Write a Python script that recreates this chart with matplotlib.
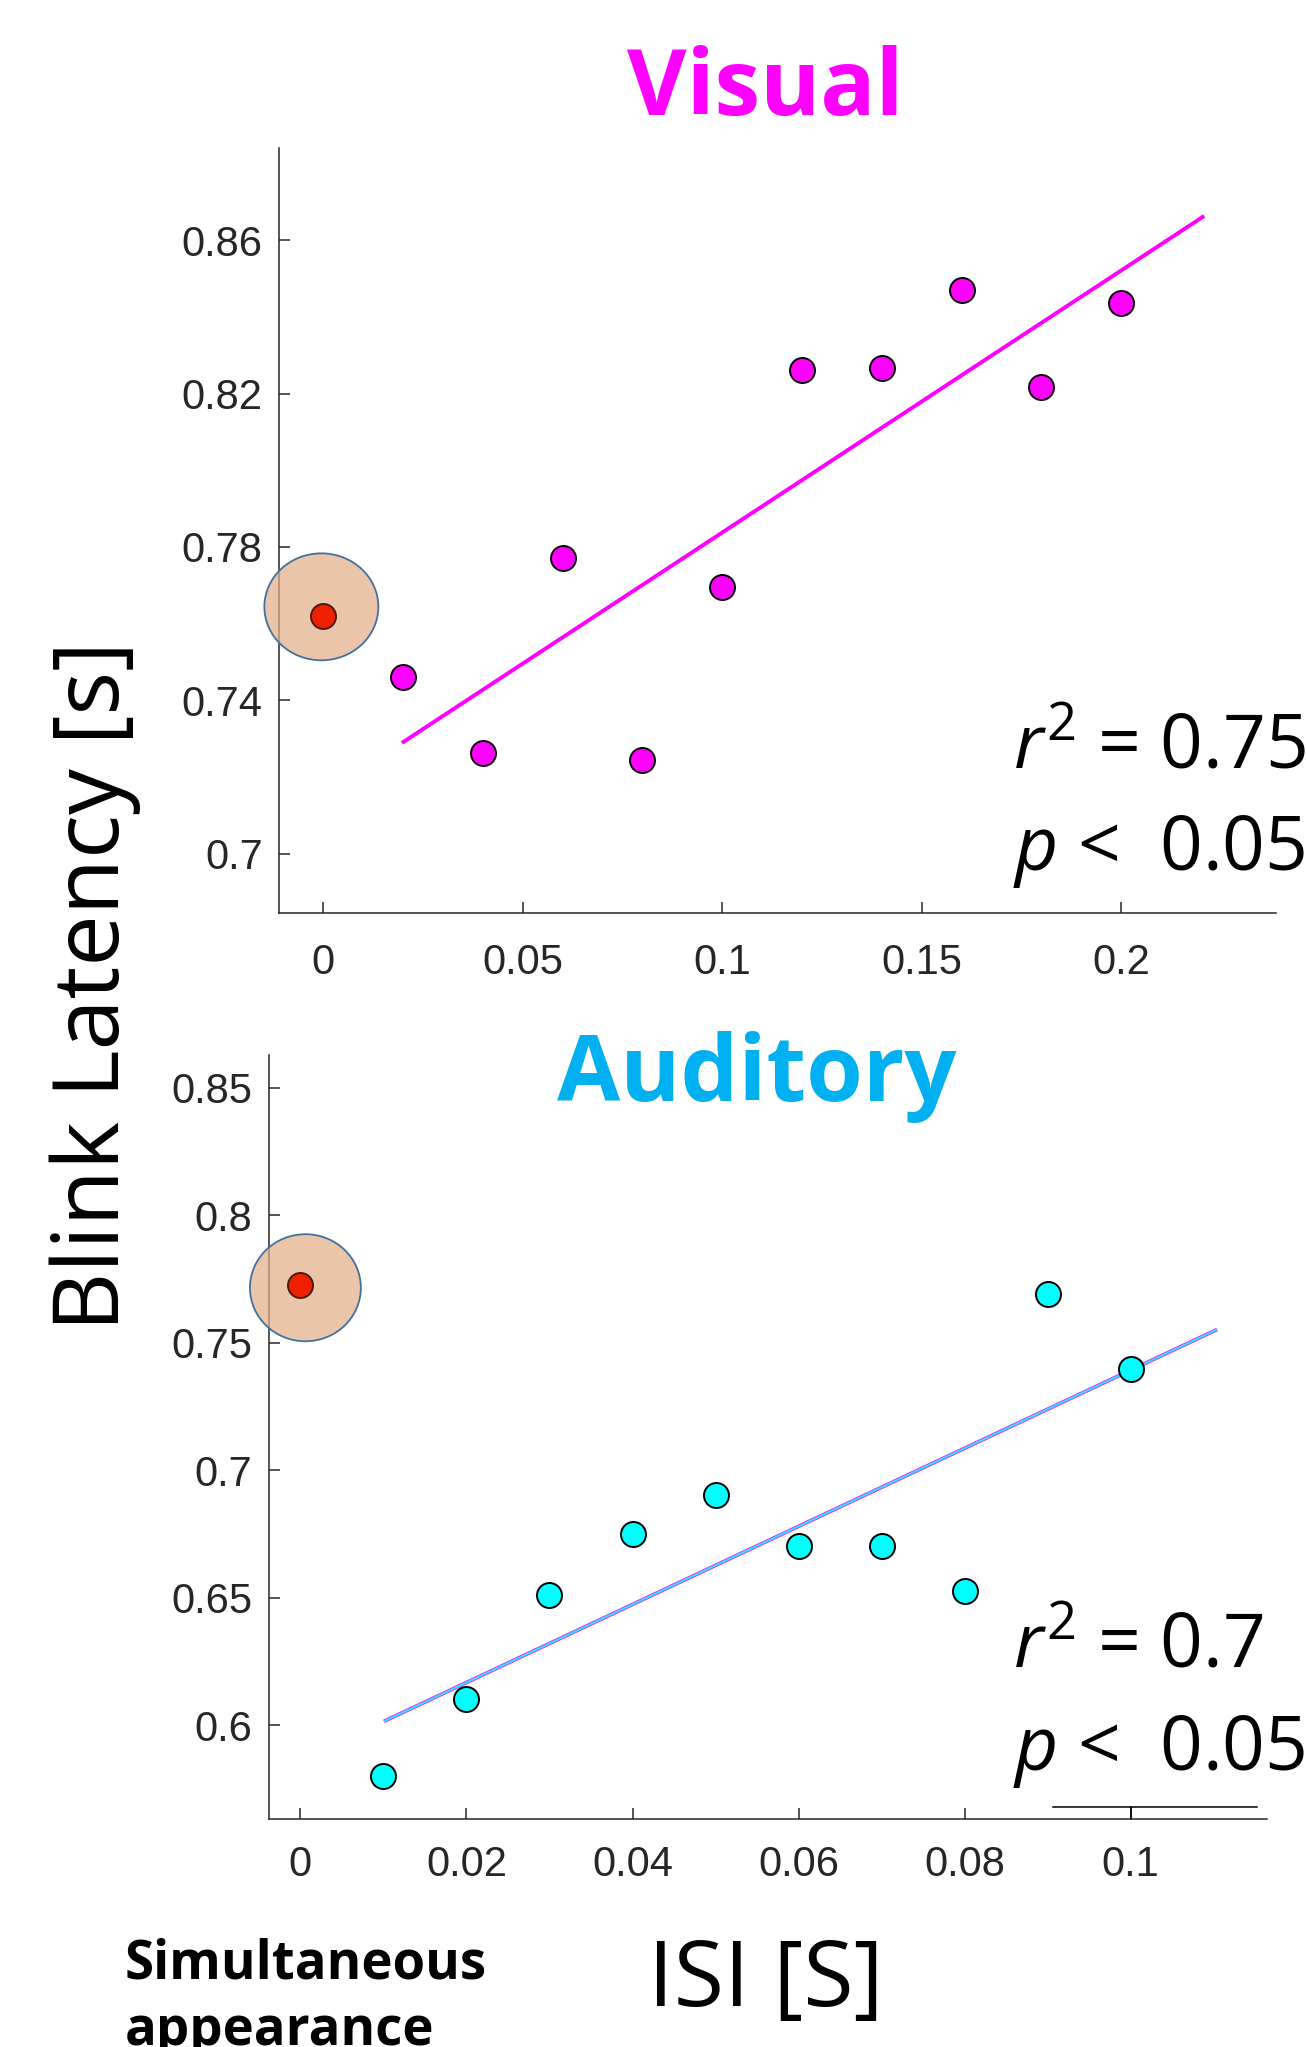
import numpy as np
import matplotlib
matplotlib.use("Agg")
import matplotlib.pyplot as plt
from matplotlib.patches import Ellipse

plt.rcParams['mathtext.fontset'] = 'custom'
plt.rcParams['mathtext.rm'] = 'Open Sans'
plt.rcParams['mathtext.it'] = 'Open Sans:italic'

# Visual condition
vis_isi = [0.02, 0.04, 0.06, 0.08, 0.10, 0.12, 0.14, 0.16, 0.18, 0.20]
vis_lat = [0.746, 0.7263, 0.7771, 0.7246, 0.7696, 0.8262, 0.8266, 0.847, 0.8218, 0.8436]
vis_sim = 0.7621
vis_fit_x = [0.0201, 0.2204]
vis_fit_y = [0.7292, 0.866]

# Auditory condition
aud_isi = [0.01, 0.02, 0.03, 0.04, 0.05, 0.06, 0.07, 0.08, 0.09, 0.10]
aud_lat = [0.58, 0.6102, 0.6512, 0.6748, 0.6902, 0.6702, 0.6702, 0.6528, 0.7691, 0.7399]
aud_sim = 0.7726
aud_fit_x = [0.01006, 0.1104]
aud_fit_y = [0.6015, 0.7552]

vis_xticks = [0, 0.05, 0.1, 0.15, 0.2]
vis_xlabels = ['0', '0.05', '0.1', '0.15', '0.2']
vis_yticks = [0.7, 0.74, 0.78, 0.82, 0.86]
vis_ylabels = ['0.7', '0.74', '0.78', '0.82', '0.86']
aud_xticks = [0, 0.02, 0.04, 0.06, 0.08, 0.1]
aud_xlabels = ['0', '0.02', '0.04', '0.06', '0.08', '0.1']
aud_yticks = [0.6, 0.65, 0.7, 0.75, 0.8, 0.85]
aud_ylabels = ['0.6', '0.65', '0.7', '0.75', '0.8', '0.85']

AX_COL = '#262626'


def style_axes(ax, xlim, ylim, xticks, xlabels, yticks, ylabels, xpad):
    ax.set_xlim(xlim)
    ax.set_ylim(ylim)
    ax.set_xticks(xticks)
    ax.set_xticklabels(xlabels)
    ax.set_yticks(yticks)
    ax.set_yticklabels(ylabels)
    for s in ['top', 'right']:
        ax.spines[s].set_visible(False)
    for s in ['left', 'bottom']:
        ax.spines[s].set_color(AX_COL)
        ax.spines[s].set_linewidth(1.1)
    ax.tick_params(direction='in', length=8, width=1.1, color=AX_COL,
                   labelcolor=AX_COL, labelsize=30)
    ax.tick_params(axis='y', pad=12)
    ax.tick_params(axis='x', pad=xpad)
    for lab in ax.get_xticklabels() + ax.get_yticklabels():
        lab.set_family('Liberation Sans')


def highlight(ax, cx, cy, w, h, y):
    ell = Ellipse((cx, cy), w, h, facecolor='#E2AF89', alpha=0.72,
                  edgecolor='none', clip_on=False, zorder=3)
    ax.add_patch(ell)
    ring = Ellipse((cx, cy), w, h, facecolor='none',
                   edgecolor='#41719C', linewidth=1.3, clip_on=False, zorder=3)
    ax.add_patch(ring)
    ax.plot([0], [y], 'o', ms=18, mfc='#EE2000', mec='#4A1A0A', mew=1.4,
            clip_on=False, zorder=5)


fig = plt.figure(figsize=(13.06, 20.47), dpi=100)

ax1 = fig.add_axes([0.2139, 0.5538, 0.977 - 0.2139, 0.9279 - 0.5538])
style_axes(ax1, (-0.01103, 0.2388), (0.6845, 0.8841),
           vis_xticks, vis_xlabels, vis_yticks, vis_ylabels, 21)
ax1.plot(vis_fit_x, vis_fit_y, color='#FF00FF', lw=2.8, zorder=2)
ax1.plot(vis_isi, vis_lat, 'o', ms=18, mfc='#FF00FF', mec='black', mew=1.4,
         clip_on=False, zorder=4)
highlight(ax1, -0.0005, 0.7644, 0.02857, 0.02788, vis_sim)

ax2 = fig.add_axes([0.206, 0.1114, 0.970 - 0.206, 0.4846 - 0.1114])
style_axes(ax2, (-0.00378, 0.1164), (0.5632, 0.8629),
           aud_xticks, aud_xlabels, aud_yticks, aud_ylabels, 19)
ax2.plot(aud_fit_x, aud_fit_y, color='#FF00FF', lw=2.6, zorder=2,
         solid_capstyle='butt')
ax2.plot(aud_fit_x, aud_fit_y, color='#30E0FF', lw=1.6, zorder=2,
         solid_capstyle='butt')
ax2.plot(aud_isi, aud_lat, 'o', ms=18, mfc='#00FFFF', mec='black', mew=1.4,
         clip_on=False, zorder=4)
highlight(ax2, 0.0006, 0.7716, 0.01336, 0.042, aud_sim)
# small bracket above the x-axis near 0.1
ax2.plot([0.0906, 0.1152], [0.5677, 0.5677], color='black', lw=1.1, clip_on=False)
ax2.plot([0.1, 0.1], [0.5677, 0.5632], color='black', lw=1.1, clip_on=False)

# titles
fig.text(0.5858, 0.9438, 'Visual', color='#FF00FF', fontsize=66,
         fontweight='bold', family='Open Sans', ha='center', va='baseline')
fig.text(0.5794, 0.4621, 'Auditory', color='#00B0F0', fontsize=66,
         fontweight='bold', family='Open Sans', ha='center', va='baseline')

# axis labels
fig.text(0.0728, 0.5183, 'Blink Latency [s]', fontsize=66, family='Open Sans',
         rotation=90, ha='center', va='center')
fig.text(0.5865, 0.02, 'ISI [S]', fontsize=66, family='Open Sans',
         ha='center', va='baseline')
fig.text(0.0957, 0.001, 'Simultaneous\nappearance', fontsize=38,
         fontweight='bold', family='Open Sans', ha='left', va='baseline',
         linespacing=1.3)

# statistics
fig.text(0.7757, 0.6248, r'$r^2$ = 0.75', fontsize=54, family='Open Sans',
         ha='left', va='baseline')
fig.text(0.7757, 0.575, r'$p$ <  0.05', fontsize=54, family='Open Sans',
         ha='left', va='baseline')
fig.text(0.7757, 0.1852, r'$r^2$ = 0.7', fontsize=54, family='Open Sans',
         ha='left', va='baseline')
fig.text(0.7757, 0.1353, r'$p$ <  0.05', fontsize=54, family='Open Sans',
         ha='left', va='baseline')

fig.savefig('out.png', dpi=100)
